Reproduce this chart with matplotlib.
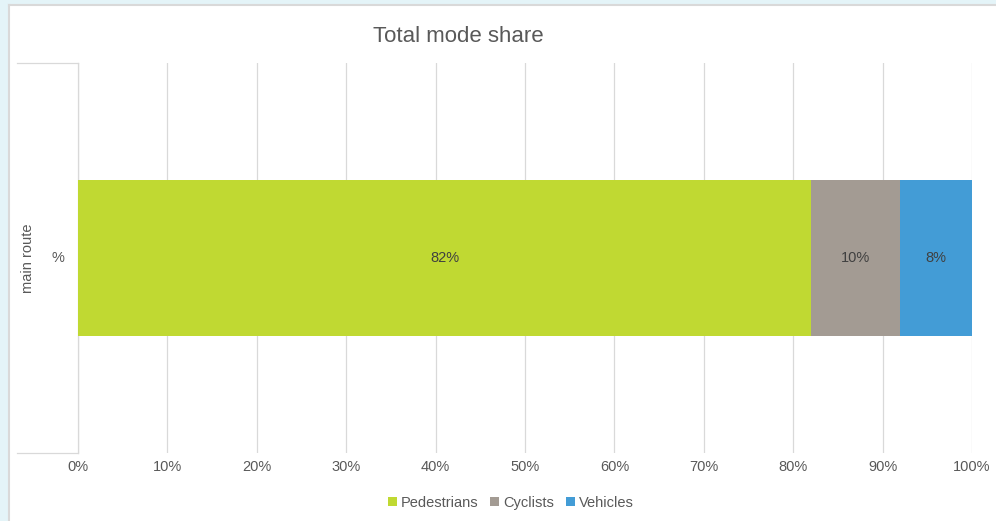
import matplotlib
matplotlib.use("Agg")
import matplotlib.pyplot as plt
from matplotlib.patches import Rectangle
from matplotlib.lines import Line2D

plt.rcParams['font.family'] = ['Liberation Sans', 'DejaVu Sans']

# Data
categories = ["%"]
group_label = "main route"
series_names = ["Pedestrians", "Cyclists", "Vehicles"]
series_values = [82, 10, 8]
series_colors = ["#c0d932", "#a39b93", "#439cd6"]
x_ticks = [0, 10, 20, 30, 40, 50, 60, 70, 80, 90, 100]
x_tick_labels = [f"{t}%" for t in x_ticks]

W, H = 996, 521
fig = plt.figure(figsize=(W / 100, H / 100), dpi=100)
fig.patch.set_facecolor("#e4f4f8")

def fx(px):
    return px / W

def fy(py):
    return 1 - py / H

# white chart area with a thin grey frame
bg = fig.add_axes([fx(9), 0, 1 - fx(9), fy(5)])
bg.set_zorder(-5)
bg.set_facecolor("white")
bg.set_xticks([])
bg.set_yticks([])
for s in ["right", "bottom"]:
    bg.spines[s].set_visible(False)
for s in ["left", "top"]:
    bg.spines[s].set_color("#d9d9d9")
    bg.spines[s].set_linewidth(1.5)

ax = fig.add_axes([fx(78), fy(453), fx(972) - fx(78), fy(63) - fy(453)])
ax.set_zorder(2)
ax.set_facecolor("none")

left = 0
for name, val, col in zip(series_names, series_values, series_colors):
    ax.barh(0, val, left=left, height=0.4, color=col, label=name, zorder=3)
    ax.text(left + val / 2, 0, f"{val}%", ha="center", va="center",
            fontsize=10.5, color="#404040", zorder=4)
    left += val

ax.set_xlim(0, 100)
ax.set_ylim(-0.5, 0.5)
ax.set_xticks(x_ticks)
ax.set_xticklabels(x_tick_labels, fontsize=10.5, color="#595959")
ax.tick_params(axis="x", length=0, pad=5)
ax.set_yticks([])
ax.grid(axis="x", color="#d9d9d9", lw=0.9, zorder=0)
for s in ["top", "right", "bottom"]:
    ax.spines[s].set_visible(False)
ax.spines["left"].set_color("#d9d9d9")
ax.spines["left"].set_linewidth(0.9)

# multi-level category axis
for py in (63, 453):
    fig.lines.append(Line2D([fx(17), fx(78)], [fy(py), fy(py)], transform=fig.transFigure,
                            color="#d9d9d9", lw=0.9))
fig.text(fx(58), fy(258), categories[0], ha="center", va="center", fontsize=10.5, color="#595959")
fig.text(fx(28), fy(258), group_label, ha="center", va="center", rotation=90,
         fontsize=10.5, color="#595959")

fig.text(fx(458), fy(37), "Total mode share", ha="center", va="center",
         fontsize=16, color="#595959")

handles = [Rectangle((0, 0), 1, 1, facecolor=c) for c in series_colors]
fig.legend(handles, series_names, loc="center", bbox_to_anchor=(fx(511), fy(503)),
           ncol=3, frameon=False, fontsize=10.5, labelcolor="#595959",
           handlelength=0.6, handleheight=0.6, handletextpad=0.3, columnspacing=0.8)

fig.savefig("out.png", dpi=100, facecolor=fig.get_facecolor())
